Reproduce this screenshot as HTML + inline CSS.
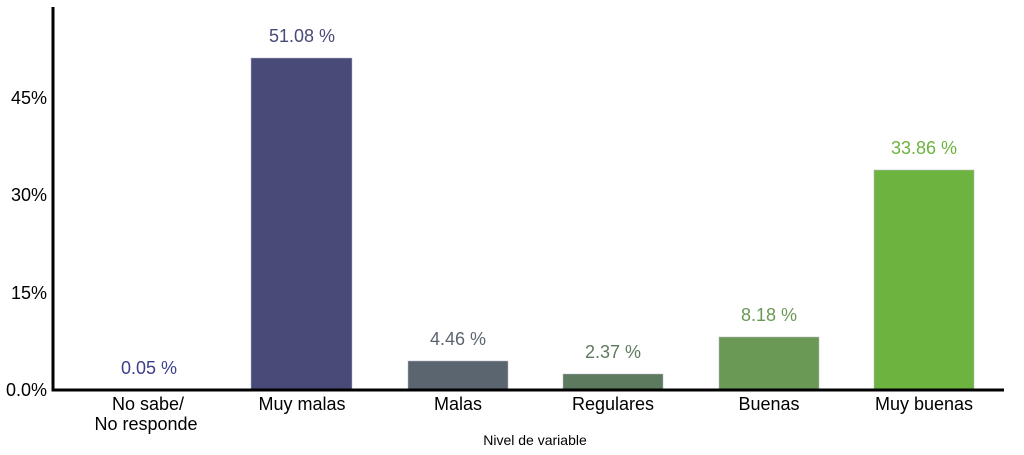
<!DOCTYPE html>
<html><head><meta charset="utf-8"><style>html,body{margin:0;padding:0;background:#fff}svg{display:block}text{font-family:"Liberation Sans",Arial,sans-serif}</style></head>
<body>
<svg width="1024" height="455" viewBox="0 0 1024 455">
<g font-size="18" fill="#000" text-anchor="end">
<text x="47" y="396">0.0%</text>
<text x="47" y="299">15%</text>
<text x="47" y="201">30%</text>
<text x="47" y="104">45%</text>
</g>
<rect x="251" y="58" width="101" height="332" fill="#484a78" stroke="#b8b8c8" stroke-width="0.5"/>
<rect x="408" y="361" width="100" height="29" fill="#5a6570" stroke="#b8b8c8" stroke-width="0.5"/>
<rect x="563" y="374" width="100" height="16" fill="#5e7a5e" stroke="#b8b8c8" stroke-width="0.5"/>
<rect x="719" y="337" width="100" height="53" fill="#6a9955" stroke="#b8b8c8" stroke-width="0.5"/>
<rect x="874" y="170" width="100" height="220" fill="#6db33f" stroke="#b8b8c8" stroke-width="0.5"/>
<g font-size="18" text-anchor="middle">
<text x="149" y="374" fill="#3d3f8a">0.05 %</text>
<text x="302" y="42" fill="#484a78">51.08 %</text>
<text x="458" y="345" fill="#5a6570">4.46 %</text>
<text x="613" y="358" fill="#5e7a5e">2.37 %</text>
<text x="769" y="321" fill="#6a9955">8.18 %</text>
<text x="924" y="154" fill="#6db33f">33.86 %</text>
</g>
<line x1="53" y1="7" x2="53" y2="391.5" stroke="#000" stroke-width="3"/>
<line x1="52" y1="390" x2="1004" y2="390" stroke="#000" stroke-width="3"/>
<g font-size="18" fill="#000" text-anchor="middle">
<text x="148" y="410">No sabe/</text>
<text x="146" y="430">No responde</text>
<text x="302" y="410">Muy malas</text>
<text x="458" y="410">Malas</text>
<text x="613" y="410">Regulares</text>
<text x="769" y="410">Buenas</text>
<text x="924" y="410">Muy buenas</text>
</g>
<text x="535" y="445" font-size="14" text-anchor="middle" fill="#000">Nivel de variable</text>
</svg>
</body></html>
